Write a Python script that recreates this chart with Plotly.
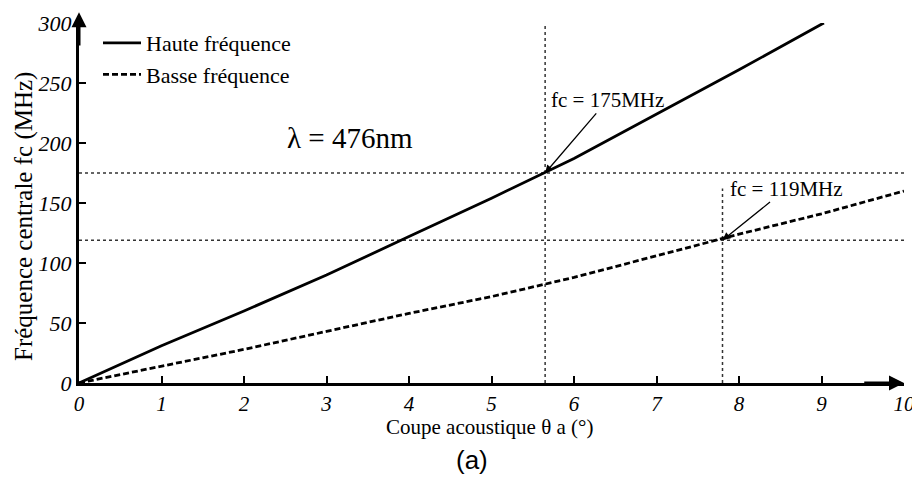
import plotly.graph_objects as go

# ---- data ----
theta_haute = [0, 1, 2, 3, 4, 5, 6, 7, 8, 9, 9.03]
fc_haute = [0, 31, 60, 90, 122, 154, 187, 224, 261, 299, 300]

theta_basse = [0, 1, 2, 3, 4, 5, 6, 7, 8, 9, 10]
fc_basse = [0, 14, 28, 43, 58, 72, 88, 106, 124, 141, 160]

mark_angles = [5.65, 7.8]        # degrees
mark_freqs = [175, 119]          # MHz
mark_vtop = [302, 162]           # top of the vertical dotted markers
mark_labels = ["fc = 175MHz", "fc = 119MHz"]

x_ticks = [0, 1, 2, 3, 4, 5, 6, 7, 8, 9, 10]
y_ticks = [0, 50, 100, 150, 200, 250, 300]

x_title = "Coupe acoustique θ a (°)"
y_title = "Fréquence centrale fc (MHz)"

SERIF = "Liberation Serif"
OFF = 8  # page body margin of the browser
L, R, T, B = 79 - OFF, 16, 23 - OFF, 98
W, H = 920 - OFF, 481 - OFF
PW, PH = W - L - R, H - T - B


def px_x(px):
    return (px - OFF - L) / PW


def px_y(py):
    return (H - B - (py - OFF)) / PH


fig = go.Figure()

# dotted reference lines
for f in mark_freqs:
    fig.add_trace(go.Scatter(x=[0, 10], y=[f, f], mode="lines",
                             line=dict(color="#333", width=1.5, dash="dot"),
                             showlegend=False, hoverinfo="skip", cliponaxis=False))
for a, top in zip(mark_angles, mark_vtop):
    fig.add_trace(go.Scatter(x=[a, a], y=[0, top], mode="lines",
                             line=dict(color="#333", width=1.5, dash="dot"),
                             showlegend=False, hoverinfo="skip", cliponaxis=False))

fig.add_trace(go.Scatter(x=theta_haute, y=fc_haute, mode="lines",
                         name="Haute fréquence", legendgroup="h",
                         line=dict(color="black", width=2.8), cliponaxis=False))
fig.add_trace(go.Scatter(x=theta_basse, y=fc_basse, mode="lines",
                         name="Basse fréquence", legendgroup="b",
                         line=dict(color="black", width=2.8, dash="6px,3px"),
                         cliponaxis=False))

# axis arrows
fig.add_annotation(x=10, y=0, ax=9.5, ay=0, xref="x", yref="y", axref="x", ayref="y",
                   showarrow=True, arrowhead=2, arrowsize=1.0, arrowwidth=3,
                   arrowcolor="black", text="")
fig.add_annotation(x=0, y=309, ax=0, ay=280, xref="x", yref="y", axref="x", ayref="y",
                   showarrow=True, arrowhead=2, arrowsize=1.0, arrowwidth=3,
                   arrowcolor="black", text="")

# fc annotations
fig.add_annotation(x=mark_angles[0], y=mark_freqs[0], ax=6.41, ay=236,
                   xref="x", yref="y", axref="x", ayref="y",
                   text=mark_labels[0], showarrow=True, arrowhead=2, arrowsize=1.2,
                   arrowwidth=1.3, arrowcolor="black",
                   font=dict(family=SERIF, size=21, color="black"))
fig.add_annotation(x=mark_angles[1], y=mark_freqs[1], ax=8.58, ay=162,
                   xref="x", yref="y", axref="x", ayref="y",
                   text=mark_labels[1], showarrow=True, arrowhead=2, arrowsize=1.2,
                   arrowwidth=1.3, arrowcolor="black",
                   font=dict(family=SERIF, size=21, color="black"))

fig.add_annotation(x=3.29, y=204, xref="x", yref="y", text="λ = 476nm",
                   showarrow=False, xanchor="center", yanchor="middle",
                   font=dict(family=SERIF, size=29, color="black"))

fig.add_annotation(x=px_x(472), y=px_y(460), xref="paper", yref="paper", text="(a)",
                   showarrow=False, xanchor="center", yanchor="middle",
                   font=dict(family="Liberation Sans", size=26, color="black"))

fig.add_annotation(x=px_x(489), y=px_y(427), xref="paper", yref="paper", text=x_title,
                   showarrow=False, xanchor="center", yanchor="middle",
                   font=dict(family=SERIF, size=21, color="black"))
fig.add_annotation(x=px_x(24), y=px_y(217), xref="paper", yref="paper", text=y_title,
                   textangle=-90, showarrow=False, xanchor="center", yanchor="middle",
                   font=dict(family=SERIF, size=25, color="black"))

fig.update_layout(
    width=W, height=H,
    margin=dict(l=L, r=R, t=T, b=B),
    plot_bgcolor="white", paper_bgcolor="white",
    showlegend=True,
    legend=dict(x=px_x(98), y=px_y(22), xanchor="left", yanchor="top",
                font=dict(family=SERIF, size=22, color="black"),
                bgcolor="rgba(0,0,0,0)", tracegroupgap=0, itemwidth=38),
    xaxis=dict(range=[0, 10], tickvals=x_ticks, ticks="inside", ticklen=7,
               tickwidth=1.5, tickcolor="black", showgrid=False, zeroline=False,
               showline=True, linewidth=3, linecolor="black", automargin=False,
               tickfont=dict(family=SERIF, size=21, color="black", style="italic")),
    yaxis=dict(range=[0, 300], tickvals=y_ticks, ticks="inside", ticklen=7,
               tickwidth=1.5, tickcolor="black", showgrid=False, zeroline=False,
               showline=True, linewidth=3, linecolor="black", automargin=False,
               tickfont=dict(family=SERIF, size=22, color="black", style="italic")),
)

fig.write_html("out.html")
